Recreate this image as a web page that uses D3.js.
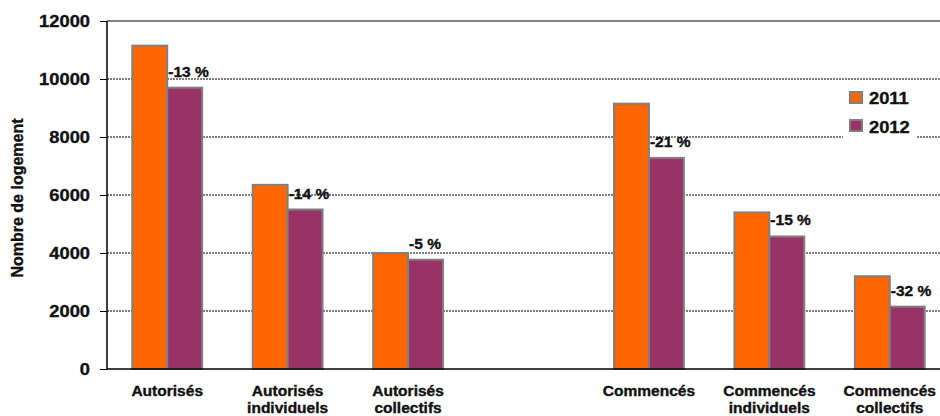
<!DOCTYPE html>
<html>
<head>
<meta charset="utf-8">
<script src="https://cdn.jsdelivr.net/npm/d3@7"></script>
<style>
  body { margin: 0; background: #fff; }
  text { font-family: "Liberation Sans", Arial, sans-serif; font-weight: bold; fill: #111; stroke: #111; stroke-width: 0.35; }
</style>
</head>
<body>
<div id="chart"></div>
<script>
// values
const categories = ["Autorisés", "Autorisés\nindividuels", "Autorisés\ncollectifs", "",
                    "Commencés", "Commencés\nindividuels", "Commencés\ncollectifs"];
const years = ["2011", "2012"];
const values2011 = [11150, 6350, 4000, null, 9150, 5400, 3200];
const values2012 = [9700, 5500, 3770, null, 7280, 4570, 2150];
const changeLabels = ["-13 %", "-14 %", "-5 %", "", "-21 %", "-15 %", "-32 %"];
const yTicks = [0, 2000, 4000, 6000, 8000, 10000, 12000];
const yTitle = "Nombre de logement";

(function() {
    const width = 940;
    const height = 416;
    const left = 107, right = 950, top = 21, bottom = 369;
    const sx = 1.11; // the reference text is a bit wider than plain Arial

    const colors = { "2011": "#ff6600", "2012": "#993366" };

    const svg = d3.select("#chart")
        .append("svg")
        .attr("width", width)
        .attr("height", height);

    const x = d3.scaleBand()
        .domain(d3.range(categories.length))
        .range([left, right])
        .paddingInner(0.42)
        .paddingOuter(0.21);

    const xs = d3.scaleBand()
        .domain(years)
        .range([0, x.bandwidth()]);

    const y = d3.scaleLinear()
        .domain([0, 12000])
        .range([bottom, top]);

    // gridlines (dotted)
    svg.append("g")
        .selectAll("line")
        .data(yTicks.filter(d => d > 0 && d < 12000))
        .join("line")
        .attr("x1", left).attr("x2", width)
        .attr("y1", d => y(d)).attr("y2", d => y(d))
        .attr("stroke", "#000")
        .attr("stroke-width", 1)
        .attr("stroke-dasharray", "2,1");

    // top border line
    svg.append("line")
        .attr("x1", left).attr("x2", width)
        .attr("y1", y(12000)).attr("y2", y(12000))
        .attr("stroke", "#808080")
        .attr("stroke-width", 2);

    // bars
    const rows = categories.map((c, i) => ({ i, v: { "2011": values2011[i], "2012": values2012[i] } }));
    const groups = svg.append("g")
        .selectAll("g")
        .data(rows.filter(r => r.v["2011"] != null))
        .join("g")
        .attr("transform", d => `translate(${x(d.i)},0)`);

    groups.selectAll("rect")
        .data(d => years.map(yr => ({ yr, v: d.v[yr] })))
        .join("rect")
        .attr("x", d => xs(d.yr))
        .attr("y", d => y(d.v))
        .attr("width", xs.bandwidth())
        .attr("height", d => y(0) - y(d.v))
        .attr("fill", d => colors[d.yr])
        .attr("stroke", "#808080")
        .attr("stroke-width", 2);

    // change labels above the 2012 bar
    groups.append("text")
        .attr("transform", d => `translate(${xs("2012") + 1},${y(d.v["2012"]) - 11}) scale(${sx},1)`)
        .attr("font-size", 14)
        .text(d => changeLabels[d.i]);

    // y axis
    const yAxis = d3.axisLeft(y).tickValues(yTicks).tickSize(7).tickFormat("");
    const yg = svg.append("g")
        .attr("transform", `translate(${left},0)`)
        .call(yAxis);
    yg.select(".domain").attr("stroke", "#000").attr("stroke-width", 1.5).attr("d", `M0,${top}V${bottom}`);
    yg.selectAll(".tick line").attr("stroke", "#000");

    svg.append("g")
        .selectAll("text")
        .data(yTicks)
        .join("text")
        .attr("transform", d => `translate(90,${y(d) + 6}) scale(${sx},1)`)
        .attr("text-anchor", "end")
        .attr("font-size", 16.5)
        .text(d => d);

    // x baseline
    svg.append("line")
        .attr("x1", left).attr("x2", width)
        .attr("y1", y(0)).attr("y2", y(0))
        .attr("stroke", "#000")
        .attr("stroke-width", 1.5);

    // category labels
    const cat = svg.append("g")
        .selectAll("text")
        .data(categories.map((c, i) => ({ c, i })).filter(d => d.c))
        .join("text")
        .attr("transform", d => `translate(${x(d.i) + x.bandwidth() / 2},396) scale(${sx},1)`)
        .attr("text-anchor", "middle")
        .attr("font-size", 14);
    cat.selectAll("tspan")
        .data(d => d.c.split("\n"))
        .join("tspan")
        .attr("x", 0)
        .attr("dy", (d, k) => k === 0 ? 0 : 17)
        .text(d => d);

    // y title
    svg.append("text")
        .attr("transform", "translate(23,198) rotate(-90)")
        .attr("text-anchor", "middle")
        .attr("font-size", 16)
        .text(yTitle);

    // legend
    const legend = svg.append("g");
    legend.append("rect")
        .attr("x", 843).attr("y", 82)
        .attr("width", 74).attr("height", 58)
        .attr("fill", "#fff");
    years.forEach((yr, k) => {
        legend.append("rect")
            .attr("x", 850).attr("y", 92 + k * 28)
            .attr("width", 12).attr("height", 11)
            .attr("fill", colors[yr])
            .attr("stroke", "#808080")
            .attr("stroke-width", 2);
        legend.append("text")
            .attr("transform", `translate(869,${104 + k * 29}) scale(${sx},1)`)
            .attr("font-size", 16.5)
            .text(yr);
    });
})();
</script>
</body>
</html>
